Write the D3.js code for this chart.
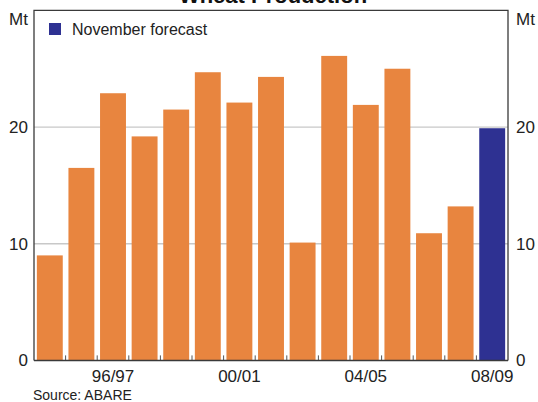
<!DOCTYPE html>
<html>
<head>
<meta charset="utf-8">
<script src="https://cdn.jsdelivr.net/npm/d3@7"></script>
<style>
  body { margin: 0; background: #fff; }
  svg { display: block; font-family: "Liberation Sans", Arial, sans-serif; }
</style>
</head>
<body>
<div id="chart"></div>
<script>
var years = ['94/95', '95/96', '96/97', '97/98', '98/99', '99/00', '00/01', '01/02',
  '02/03', '03/04', '04/05', '05/06', '06/07', '07/08', '08/09'];
var production = [9.0, 16.5, 22.9, 19.2, 21.5, 24.7, 22.1, 24.3, 10.1, 26.1, 21.9, 25.0, 10.9, 13.2, 19.9];
var forecast = ['08/09'];
var yTicks = [0, 10, 20];
var shownLabels = ['96/97', '00/01', '04/05', '08/09'];

var width = 538, height = 402;
var plotLeft = 34, plotRight = 508, plotTop = 10.4, plotBottom = 360.4;

var svg = d3.select('#chart').append('svg')
  .attr('width', width)
  .attr('height', height);

var x = d3.scaleBand()
  .domain(years)
  .range([plotLeft, plotRight])
  .paddingInner(0.18)
  .paddingOuter(0.09);

var y = d3.scaleLinear()
  .domain([0, 30])
  .range([plotBottom, plotTop]);

// gridlines
svg.selectAll('.grid')
  .data(yTicks.filter(function (d) { return d > 0; }))
  .enter().append('line')
  .attr('x1', plotLeft).attr('x2', plotRight)
  .attr('y1', function (d) { return y(d); })
  .attr('y2', function (d) { return y(d); })
  .attr('stroke', '#c8c8c8')
  .attr('stroke-width', 1.3);

// bars
svg.selectAll('.bar')
  .data(years)
  .enter().append('rect')
  .attr('x', function (d) { return x(d); })
  .attr('width', x.bandwidth())
  .attr('y', function (d, i) { return y(production[i]); })
  .attr('height', function (d, i) { return plotBottom - y(production[i]); })
  .attr('fill', function (d) { return forecast.indexOf(d) >= 0 ? '#2e3192' : '#e8853f'; });

// frame
svg.append('path')
  .attr('d', 'M' + plotLeft + ',' + plotBottom + 'V' + plotTop + 'H' + plotRight + 'V' + plotBottom)
  .attr('fill', 'none')
  .attr('stroke', '#3a3a3a')
  .attr('stroke-width', 1.3);

// x axis ticks at band boundaries
var step = x.step();
var boundaries = d3.range(1, years.length).map(function (i) { return plotLeft + i * step; });
svg.selectAll('.xtick')
  .data(boundaries)
  .enter().append('line')
  .attr('x1', function (d) { return d; }).attr('x2', function (d) { return d; })
  .attr('y1', plotBottom).attr('y2', plotBottom - 5)
  .attr('stroke', '#555')
  .attr('stroke-width', 1);
svg.append('line')
  .attr('x1', plotLeft).attr('x2', plotRight)
  .attr('y1', plotBottom).attr('y2', plotBottom)
  .attr('stroke', '#3a3a3a')
  .attr('stroke-width', 1.5);

svg.selectAll('.xlabel')
  .data(shownLabels)
  .enter().append('text')
  .attr('x', function (d) { return x(d) + x.bandwidth() / 2; })
  .attr('y', 382)
  .attr('text-anchor', 'middle')
  .attr('font-size', 17)
  .attr('fill', '#222')
  .text(function (d) { return d; });

// y labels on both sides
svg.selectAll('.ylabel-l')
  .data(yTicks)
  .enter().append('text')
  .attr('x', 28)
  .attr('y', function (d) { return y(d); })
  .attr('dy', '0.35em')
  .attr('text-anchor', 'end')
  .attr('font-size', 17)
  .attr('fill', '#222')
  .text(function (d) { return d; });
svg.selectAll('.ylabel-r')
  .data(yTicks)
  .enter().append('text')
  .attr('x', 516)
  .attr('y', function (d) { return y(d); })
  .attr('dy', '0.35em')
  .attr('text-anchor', 'start')
  .attr('font-size', 17)
  .attr('fill', '#222')
  .text(function (d) { return d; });

svg.append('text')
  .attr('x', 28).attr('y', 25)
  .attr('text-anchor', 'end')
  .attr('font-size', 17).attr('fill', '#222')
  .text('Mt');
svg.append('text')
  .attr('x', 516).attr('y', 25)
  .attr('font-size', 17).attr('fill', '#222')
  .text('Mt');

// title (cut off at top)
svg.append('text')
  .attr('x', (plotLeft + plotRight) / 2 + 2)
  .attr('y', 3)
  .attr('text-anchor', 'middle')
  .attr('font-size', 22)
  .attr('font-weight', 'bold')
  .attr('fill', '#111')
  .text('Wheat Production');

// legend
svg.append('rect')
  .attr('x', 49).attr('y', 23)
  .attr('width', 12).attr('height', 12)
  .attr('fill', '#2e3192');
svg.append('text')
  .attr('x', 72).attr('y', 35)
  .attr('font-size', 16).attr('fill', '#222')
  .text('November forecast');

svg.append('text')
  .attr('x', 33).attr('y', 400)
  .attr('font-size', 14).attr('fill', '#222')
  .text('Source: ABARE');
</script>
</body>
</html>
